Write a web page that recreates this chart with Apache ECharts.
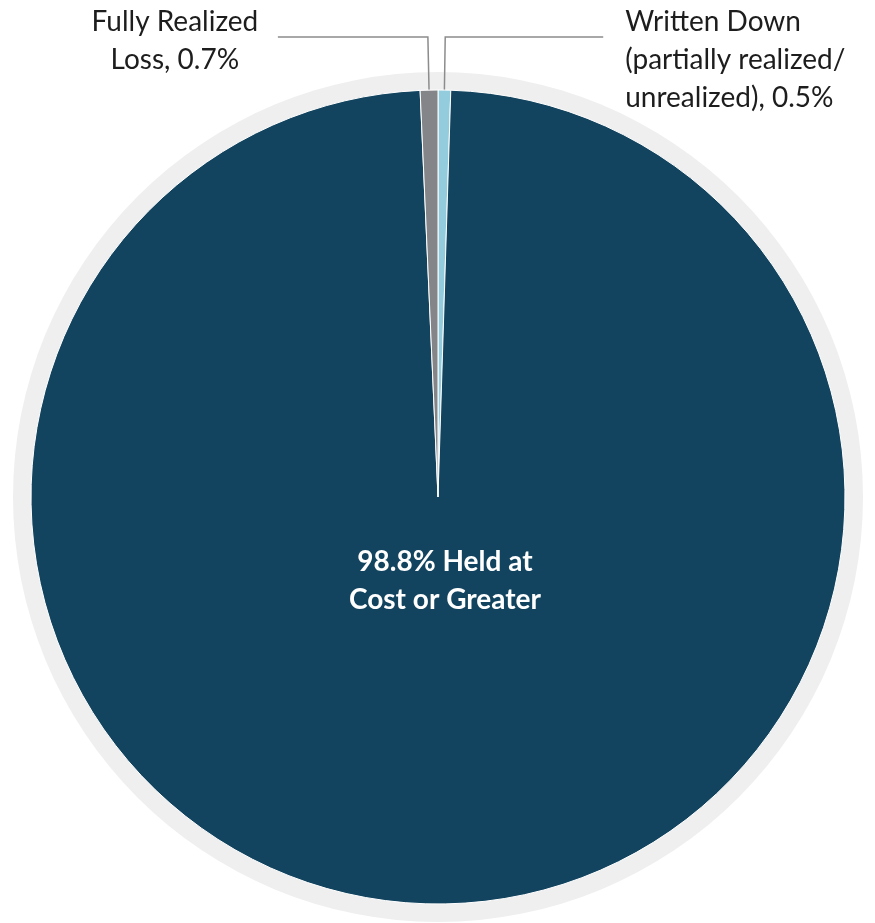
<!DOCTYPE html>
<html>
<head>
<meta charset="utf-8">
<title>Held at cost</title>
<script src="https://cdn.jsdelivr.net/npm/echarts@6/dist/echarts.min.js"></script>
<style>
  html, body { margin: 0; padding: 0; background: #fff; }
  #chart { width: 875px; height: 923px; }
</style>
</head>
<body>
<div id="chart"></div>
<script>
// slices, clockwise from 12 o'clock
const categories = [
  "Written Down (partially realized/ unrealized)",
  "Held at Cost or Greater",
  "Fully Realized Loss"
];
const shares = [0.5, 98.8, 0.7];
const sliceColors = ["#93CDDD", "#12445F", "#848589"];

const labelFont = "Lato, 'Open Sans', sans-serif";
const textStyle = { fontSize: 28, lineHeight: 38, color: "#1d1d1d", fontFamily: labelFont };

const chart = echarts.init(document.getElementById("chart"));

const pieData = categories.map((name, i) => ({ name: name, value: shares[i] }));

// Written Down: label to the right, three lines, pushed down by a spacer line
pieData[0].label = {
  formatter: "{s| }\n{l|Written Down}\n{l|(partially realized/}\n{l|unrealized), " + shares[0] + "%}",
  distanceToLabelLine: 22,
  rich: {
    s: { fontSize: 1, lineHeight: 46 },
    l: Object.assign({ align: "left" }, textStyle)
  }
};
pieData[0].labelLine = { length: 53, length2: 158 };

// big slice: label inside, under the centre
pieData[1].label = {
  position: "center",
  formatter: shares[1] + "% Held at\nCost or Greater",
  color: "#fff",
  fontWeight: "bold",
  fontSize: 28,
  lineHeight: 38,
  offset: [7, 84]
};
pieData[1].labelLine = { show: false };

// Fully Realized: label to the left, centred lines
pieData[2].label = {
  formatter: "{s| }\n{c|Fully Realized}\n{c|Loss, " + shares[2] + "%}",
  distanceToLabelLine: 12,
  rich: {
    s: { fontSize: 1, lineHeight: 8 },
    c: Object.assign({ width: 182, align: "center" }, textStyle)
  }
};
pieData[2].labelLine = { length: 53, length2: 150 };

chart.setOption({
  animation: false,
  backgroundColor: "#fff",
  color: sliceColors,
  series: [
    {
      // pale ring behind the pie
      type: "pie",
      silent: true,
      center: [438, 497],
      radius: 425,
      z: 1,
      label: { show: false },
      labelLine: { show: false },
      itemStyle: { color: "#EFEFEF" },
      data: [{ name: "ring", value: 1 }]
    },
    {
      type: "pie",
      center: [438, 497],
      radius: 407,
      z: 2,
      startAngle: 90,
      clockwise: true,
      avoidLabelOverlap: false,
      itemStyle: { borderColor: "#fff", borderWidth: 1 },
      label: {
        show: true,
        position: "outside",
        fontFamily: labelFont,
        fontSize: 28,
        lineHeight: 38,
        color: "#1d1d1d"
      },
      labelLine: {
        show: true,
        smooth: false,
        lineStyle: { color: "#8c8c8c", width: 1.5 }
      },
      emphasis: { disabled: true },
      data: pieData
    }
  ]
});
</script>
</body>
</html>
